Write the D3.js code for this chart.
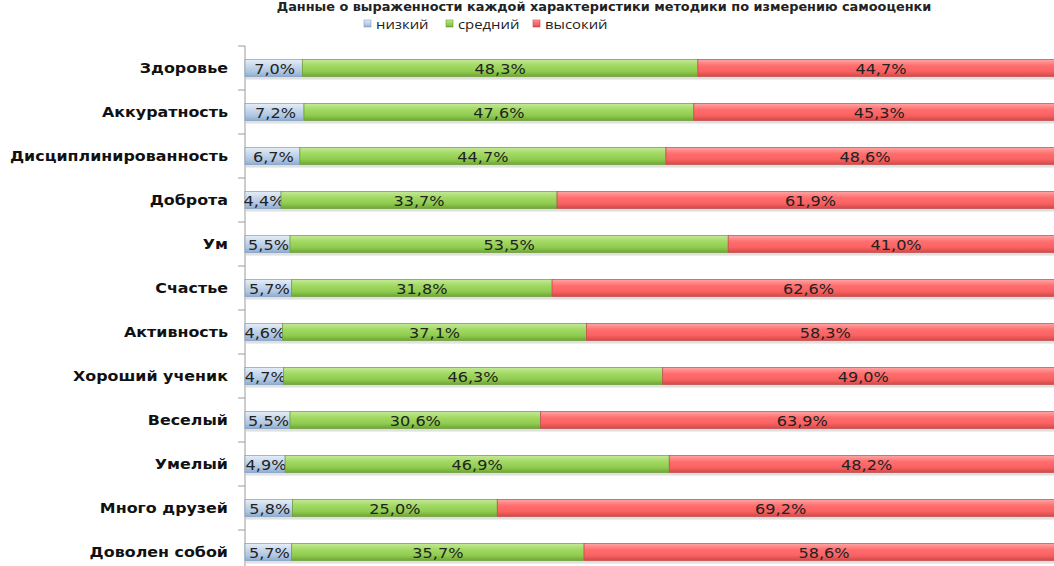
<!DOCTYPE html>
<html><head><meta charset="utf-8">
<script src="https://cdn.jsdelivr.net/npm/d3@7/dist/d3.min.js"></script>
<style>body{margin:0;background:#fff;} svg{display:block;}</style>
</head><body>
<script>
const title = "Данные о выраженности каждой характеристики методики по измерению самооценки";
const categories = ["Здоровье","Аккуратность","Дисциплинированность","Доброта","Ум","Счастье","Активность","Хороший ученик","Веселый","Умелый","Много друзей","Доволен собой"];
const seriesNames = ["низкий","средний","высокий"];
const low  = [7.0,7.2,6.7,4.4,5.5,5.7,4.6,4.7,5.5,4.9,5.8,5.7];
const mid  = [48.3,47.6,44.7,33.7,53.5,31.8,37.1,46.3,30.6,46.9,25.0,35.7];
const high = [44.7,45.3,48.6,61.9,41.0,62.6,58.3,49.0,63.9,48.2,69.2,58.6];

const W = 1054, H = 566;
const svg = d3.select("body").append("svg").attr("width", W).attr("height", H);
const defs = svg.append("defs");
const grads = [
  ["gLow", ["#e6eef8","#c9d9ec","#b0c7e2","#8eabd0"]],
  ["gMid", ["#c6ea98","#a2d964","#90cc50","#6fa534"]],
  ["gHigh",["#ffa6a6","#ff6f6f","#fa6161","#d04848"]]
];
grads.forEach(([id, cs]) => {
  const g = defs.append("linearGradient").attr("id", id).attr("x1",0).attr("y1",0).attr("x2",0).attr("y2",1);
  [0,0.35,0.7,1].forEach((o,i)=> g.append("stop").attr("offset",o).attr("stop-color",cs[i]));
});
const strokes = ["#7f9cc2","#6a9c35","#c24a4a"];

const x0 = 245, x1 = 1064;
const x = d3.scaleLinear().domain([0,100]).range([x0, x1]);
const y = d3.scaleBand().domain(categories).range([46, 46 + 44*categories.length]).paddingInner(0.61).paddingOuter(0.305);

// title
svg.append("text").attr("transform","translate(604,11) scale(1.12,1)").attr("text-anchor","middle")
  .attr("font-family","DejaVu Sans").attr("font-weight","bold").attr("font-size",11.5).attr("fill","#222")
  .text(title);

// legend
const legX = [364, 446, 533];
seriesNames.forEach((n,i)=>{
  svg.append("rect").attr("x", legX[i]).attr("y", 20).attr("width", 7).attr("height", 7)
    .attr("fill", `url(#${grads[i][0]})`).attr("stroke", strokes[i]).attr("stroke-width",0.6);
  svg.append("text").attr("transform",`translate(${legX[i]+12},28.5) scale(1.1,1)`)
    .attr("font-family","Open Sans").attr("font-size",13.5).attr("fill","#222").text(n);
});

// axis
const yAxis = d3.axisLeft(y).tickSize(0).tickSizeOuter(0).tickFormat("");
const ax = svg.append("g").attr("transform",`translate(${x0},0)`).call(yAxis);
ax.select(".domain").remove();
ax.selectAll(".tick").remove();
const bounds = d3.range(categories.length+1).map(i => 46 + 44*i);
svg.append("g").selectAll("line").data(bounds).join("line")
  .attr("x1", x0-7).attr("x2", x0).attr("y1", d=>d).attr("y2", d=>d).attr("stroke","#9a9a9a");
svg.append("line").attr("x1",x0).attr("x2",x0).attr("y1",46).attr("y2",H).attr("stroke","#9a9a9a");

// category labels
svg.append("g").selectAll("text").data(categories).join("text")
  .attr("transform", d => `translate(228,${y(d) + y.bandwidth()/2 + 5}) scale(1.135,1)`)
  .attr("text-anchor","end").attr("font-family","DejaVu Sans").attr("font-weight","bold")
  .attr("font-size",14).attr("fill","#111").text(d=>d);

// stacked bars
const rows = categories.map((c,i)=>({cat:c, "низкий":low[i], "средний":mid[i], "высокий":high[i]}));
const stack = d3.stack().keys(seriesNames)(rows);
const bh = y.bandwidth();
svg.append("g").selectAll("rect").data(rows).join("rect")
  .attr("x", x(0)+1).attr("y", d=>y(d.cat)+bh).attr("width", x(100)-x(0)).attr("height",3)
  .attr("fill","#000").attr("opacity",0.12);
stack.forEach((s,si)=>{
  const g = svg.append("g");
  g.selectAll("rect").data(s).join("rect")
    .attr("x", d=>x(d[0])).attr("y", d=>y(d.data.cat)).attr("width", d=>x(d[1])-x(d[0])).attr("height", bh)
    .attr("fill", `url(#${grads[si][0]})`).attr("stroke", strokes[si]).attr("stroke-width",0.7);
  g.selectAll("text").data(s).join("text")
    .attr("transform", d => `translate(${(x(d[0])+x(d[1]))/2 + (si===0?1:0)},${y(d.data.cat)+bh/2+5.5}) scale(1.15,1)`)
    .attr("text-anchor","middle").attr("font-family","DejaVu Sans").attr("font-size",14).attr("fill","#222")
    .text(d=> (d[1]-d[0]).toFixed(1).replace(".",",")+"%");
});
</script>
</body></html>
